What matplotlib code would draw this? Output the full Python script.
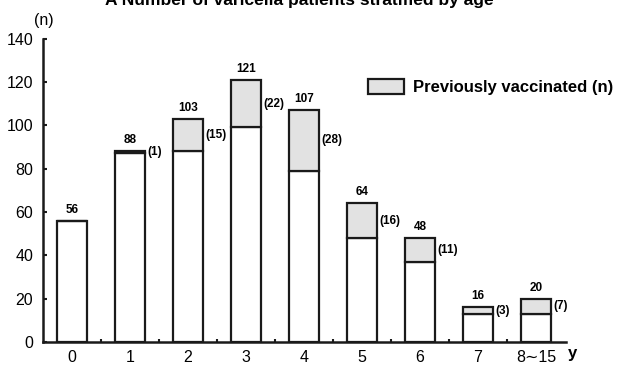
import matplotlib
matplotlib.use("Agg")
import matplotlib.pyplot as plt
import numpy as np
from matplotlib.patches import Patch

plt.rcParams['font.family'] = ['Liberation Sans', 'DejaVu Sans']

# data
age_groups = ["0", "1", "2", "3", "4", "5", "6", "7", "8\u223c15"]
totals = [56, 88, 103, 121, 107, 64, 48, 16, 20]
vaccinated = [0, 1, 15, 22, 28, 16, 11, 3, 7]

unvaccinated = [t - v for t, v in zip(totals, vaccinated)]
x = np.arange(len(age_groups))
edge = "#1a1a1a"
grey = "#e2e2e2"

fig = plt.figure(figsize=(6.22, 3.66), dpi=100)
ax = fig.add_axes([0.069, 0.0656, 0.841, 0.829])

ax.bar(x, unvaccinated, width=0.51, color="white", edgecolor=edge, linewidth=1.6)
ax.bar(x, vaccinated, width=0.51, bottom=unvaccinated, color=grey,
       edgecolor=edge, linewidth=1.6)

for i in range(len(x)):
    ax.annotate(str(totals[i]), (x[i], totals[i]), textcoords="offset points",
                xytext=(0, 3.5), ha="center", va="bottom", fontsize=8.5,
                fontweight="bold")
    if vaccinated[i] > 0:
        ax.annotate(f"({vaccinated[i]})", (x[i] + 0.255, unvaccinated[i] + vaccinated[i] / 2),
                    textcoords="offset points", xytext=(2, 0), ha="left",
                    va="center", fontsize=8.5, fontweight="bold")

ax.set_xlim(-0.5, 8.52)
ax.set_ylim(0, 140)
ax.set_yticks(np.arange(0, 141, 20))
ax.set_xticks(x)
ax.set_xticklabels(age_groups)
ax.set_xticks(x[:-1] + 0.5, minor=True)

ax.spines["top"].set_visible(False)
ax.spines["right"].set_visible(False)
ax.spines["left"].set_linewidth(1.8)
ax.spines["bottom"].set_linewidth(1.8)
ax.spines["left"].set_color(edge)
ax.spines["bottom"].set_color(edge)

ax.tick_params(axis="y", direction="in", length=3, width=1.5, labelsize=11.5, pad=7, color=edge)
ax.tick_params(axis="x", which="major", length=0, labelsize=11.5, pad=6)
ax.tick_params(axis="x", which="minor", direction="in", length=2, width=1.5, color=edge)

fig.text(0.921, 0.022, "y", fontsize=12, fontweight="bold", ha="center", va="baseline")
fig.text(0.071, 0.945, "(n)", fontsize=11.5, ha="center", va="center")
fig.text(0.482, 0.986, "A Number of varicella patients stratified by age",
         fontsize=12.5, fontweight="bold", ha="center", va="baseline")

handle = Patch(facecolor=grey, edgecolor=edge, linewidth=1.6)
ax.legend([handle], ["Previously vaccinated (n)"], loc="center left",
          bbox_to_anchor=(0.621, 0.84), frameon=False, borderpad=0,
          borderaxespad=0, handlelength=2.2, handleheight=1.05,
          handletextpad=0.5, prop={"weight": "bold", "size": 12})

fig.savefig("out.png", dpi=100)
